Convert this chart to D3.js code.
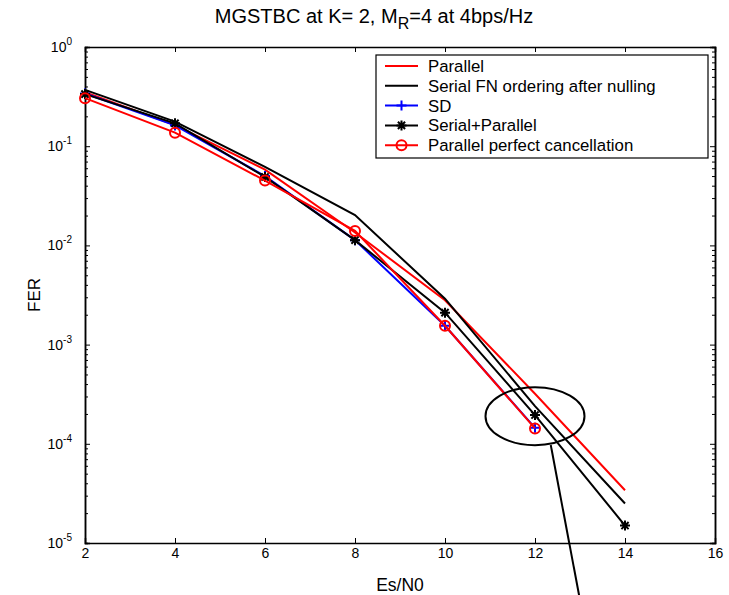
<!DOCTYPE html>
<html>
<head>
<meta charset="utf-8">
<script src="https://cdn.jsdelivr.net/npm/d3@7"></script>
<style>
  body { margin: 0; background: #fff; }
  text { font-family: "Liberation Sans", Arial, sans-serif; }
</style>
</head>
<body>
<div id="chart"></div>
<script>
// data
var snr = [2, 4, 6, 8, 10, 12, 14];
var parallel = [0.35, 0.163, 0.058, 0.0135, 0.0028, 0.00032, 0.000034];
var serialFN = [0.37, 0.177, 0.062, 0.0202, 0.0029, 0.00024, 0.000025];
var sdSnr = [2, 4, 6, 8, 10, 12];
var sd = [0.34, 0.162, 0.050, 0.0113, 0.00155, 0.000145];
var serialParallel = [0.335, 0.170, 0.049, 0.0113, 0.0021, 0.000195, 0.000015];
var perfectCancel = [0.305, 0.137, 0.045, 0.014, 0.00155, 0.000143];

var xTicks = [2, 4, 6, 8, 10, 12, 14, 16];
var yExps = [0, -1, -2, -3, -4, -5];

var margin = { top: 47, right: 14, bottom: 52, left: 85 },
  width = 729 - margin.left - margin.right,
  height = 595 - margin.top - margin.bottom;

var x = d3.scaleLinear().domain([2, 16]).range([0, width]);
var y = d3.scaleLog().domain([1e-5, 1]).range([height, 0]);

var svg = d3.select("#chart").append("svg")
  .attr("width", 729)
  .attr("height", 595);

var g = svg.append("g")
  .attr("transform", "translate(" + margin.left + "," + margin.top + ")");

// title
var title = svg.append("text")
  .attr("x", 374)
  .attr("y", 23)
  .attr("text-anchor", "middle")
  .style("font-size", "20px");
title.append("tspan").text("MGSTBC at K= 2, M");
title.append("tspan").attr("dy", 6).style("font-size", "16px").text("R");
title.append("tspan").attr("dy", -6).text("=4 at 4bps/Hz");

// axes (MATLAB style: ticks inward, mirrored)
var minor = [];
for (var e = -5; e < 0; e++) {
  for (var m = 2; m <= 9; m++) minor.push(m * Math.pow(10, e));
}

var xAxisB = d3.axisBottom(x).tickValues(xTicks).tickSize(-5).tickPadding(5).tickFormat(d3.format("d"));
var xAxisT = d3.axisTop(x).tickValues(xTicks).tickSize(-5).tickFormat("");
var yAxisL = d3.axisLeft(y).tickValues(yExps.map(function (d) { return Math.pow(10, d); })).tickSize(-5).tickFormat("");
var yAxisR = d3.axisRight(y).tickValues(yExps.map(function (d) { return Math.pow(10, d); })).tickSize(-5).tickFormat("");
var yMinorL = d3.axisLeft(y).tickValues(minor).tickSize(-3).tickFormat("");
var yMinorR = d3.axisRight(y).tickValues(minor).tickSize(-3).tickFormat("");

function styleAxis(sel) {
  sel.selectAll("path").attr("stroke", "#000").attr("stroke-width", 1.5);
  sel.selectAll("line").attr("stroke", "#000").attr("stroke-width", 1);
  sel.selectAll("text").style("font-size", "14px").attr("fill", "#000")
    .style("font-family", "'Liberation Sans', Arial, sans-serif");
}

g.append("g").attr("transform", "translate(0," + height + ")").call(xAxisB).call(styleAxis);
g.append("g").call(xAxisT).call(styleAxis);
g.append("g").call(yAxisL).call(styleAxis);
g.append("g").attr("transform", "translate(" + width + ",0)").call(yAxisR).call(styleAxis);
g.append("g").call(yMinorL).call(styleAxis);
g.append("g").attr("transform", "translate(" + width + ",0)").call(yMinorR).call(styleAxis);

// y tick labels 10^k
yExps.forEach(function (k) {
  var t = g.append("text")
    .attr("x", -13)
    .attr("y", y(Math.pow(10, k)) + 5)
    .attr("text-anchor", "end")
    .style("font-size", "14px");
  t.append("tspan").text("10");
  t.append("tspan").attr("dy", -7).style("font-size", "10px").text(k);
});

// axis labels
svg.append("text")
  .attr("x", margin.left + width / 2)
  .attr("y", 591)
  .attr("text-anchor", "middle")
  .style("font-size", "17.5px")
  .text("Es/N0");

svg.append("text")
  .attr("transform", "rotate(-90)")
  .attr("x", -(margin.top + height / 2))
  .attr("y", 40)
  .attr("text-anchor", "middle")
  .style("font-size", "17px")
  .text("FER");

// curves
var line = d3.line()
  .x(function (d) { return x(d[0]); })
  .y(function (d) { return y(d[1]); });

function pairs(xs, ys) { return xs.map(function (v, i) { return [v, ys[i]]; }); }

var series = [
  { name: "Parallel", color: "#ff0000", pts: pairs(snr, parallel), marker: null },
  { name: "Serial FN ordering after nulling", color: "#000000", pts: pairs(snr, serialFN), marker: null },
  { name: "SD", color: "#0000ff", pts: pairs(sdSnr, sd), marker: "plus" },
  { name: "Serial+Parallel", color: "#000000", pts: pairs(snr, serialParallel), marker: "star" },
  { name: "Parallel perfect cancellation", color: "#ff0000", pts: pairs(sdSnr, perfectCancel), marker: "circle" }
];

function drawMarker(sel, type, color, cx, cy) {
  if (type === "circle") {
    sel.append("circle").attr("cx", cx).attr("cy", cy).attr("r", 5)
      .attr("fill", "none").attr("stroke", color).attr("stroke-width", 2);
  } else if (type === "plus") {
    sel.append("path").attr("d", "M" + (cx - 5) + "," + cy + "h10M" + cx + "," + (cy - 5) + "v10")
      .attr("stroke", color).attr("stroke-width", 2);
  } else if (type === "star") {
    var r = 5, d = 3.6;
    sel.append("path")
      .attr("d", "M" + (cx - r) + "," + cy + "h" + (2 * r) +
        "M" + cx + "," + (cy - r) + "v" + (2 * r) +
        "M" + (cx - d) + "," + (cy - d) + "l" + (2 * d) + "," + (2 * d) +
        "M" + (cx - d) + "," + (cy + d) + "l" + (2 * d) + "," + (-2 * d))
      .attr("stroke", color).attr("stroke-width", 2);
  }
}

var plot = g.append("g");
series.forEach(function (s) {
  plot.append("path")
    .datum(s.pts)
    .attr("d", line)
    .attr("fill", "none")
    .attr("stroke", s.color)
    .attr("stroke-width", 2);
  if (s.marker) {
    s.pts.forEach(function (p) { drawMarker(plot, s.marker, s.color, x(p[0]), y(p[1])); });
  }
});

// annotation ellipse and pointer line
var ellX = 12, ellY = 1.9e-4;
g.append("ellipse")
  .attr("cx", x(ellX))
  .attr("cy", y(ellY))
  .attr("rx", x(13.1) - x(12))
  .attr("ry", 29)
  .attr("fill", "none")
  .attr("stroke", "#000")
  .attr("stroke-width", 2);

svg.append("line")
  .attr("x1", margin.left + x(12.35)).attr("y1", 445)
  .attr("x2", 580).attr("y2", 600)
  .attr("stroke", "#000")
  .attr("stroke-width", 2);

// legend
var lg = svg.append("g").attr("transform", "translate(376,55)");
lg.append("rect")
  .attr("width", 332).attr("height", 103)
  .attr("fill", "#fff").attr("stroke", "#000").attr("stroke-width", 1.2);

series.forEach(function (s, i) {
  var cy = 11 + i * 19.8;
  lg.append("line").attr("x1", 9).attr("x2", 42).attr("y1", cy).attr("y2", cy)
    .attr("stroke", s.color).attr("stroke-width", 2);
  if (s.marker) drawMarker(lg, s.marker, s.color, 25.5, cy);
  lg.append("text").attr("x", 52).attr("y", cy + 6)
    .style("font-size", "16.8px").text(s.name);
});
</script>
</body>
</html>
